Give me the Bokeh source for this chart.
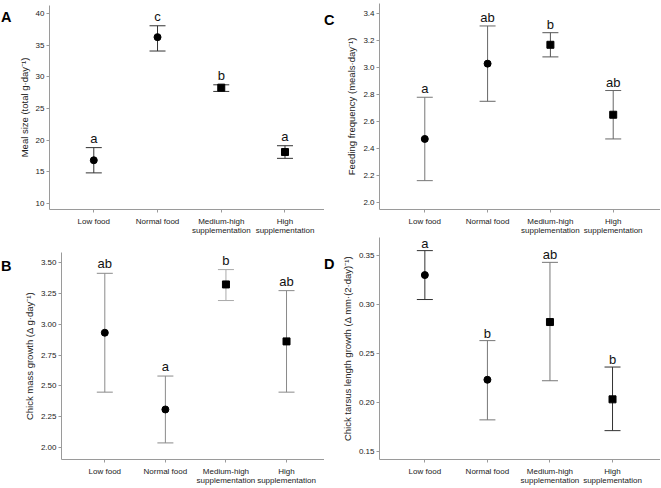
from bokeh.plotting import figure
from bokeh.layouts import row, column
from bokeh.models import (ColumnDataSource, FixedTicker, NumeralTickFormatter,
                          LabelSet, Range1d, Div)
from bokeh.core.properties import value
from bokeh.embed import file_html
from bokeh.resources import INLINE

# ---------------- data ----------------
groups = ["Low food", "Normal food", "Medium-high\nsupplementation", "High\nsupplementation"]
group_pos = [0, 1, 2, 3]
markers = ["circle", "circle", "square", "square"]

A_mean = [16.8, 36.3, 28.3, 18.1]
A_lo = [14.8, 34.1, 27.7, 17.1]
A_hi = [18.8, 38.1, 28.75, 19.1]
A_letters = ["a", "c", "b", "a"]
A_ticks = [10, 15, 20, 25, 30, 35, 40]

B_mean = [2.93, 2.31, 3.32, 2.86]
B_lo = [2.45, 2.04, 3.19, 2.45]
B_hi = [3.41, 2.58, 3.44, 3.27]
B_letters = ["ab", "a", "b", "ab"]
B_ticks = [2.00, 2.25, 2.50, 2.75, 3.00, 3.25, 3.50]

C_mean = [2.47, 3.03, 3.17, 2.65]
C_lo = [2.16, 2.75, 3.08, 2.47]
C_hi = [2.78, 3.31, 3.26, 2.83]
C_letters = ["a", "ab", "b", "ab"]
C_ticks = [2.0, 2.2, 2.4, 2.6, 2.8, 3.0, 3.2, 3.4]

D_mean = [0.330, 0.223, 0.282, 0.203]
D_lo = [0.305, 0.182, 0.222, 0.171]
D_hi = [0.355, 0.263, 0.343, 0.236]
D_letters = ["a", "b", "ab", "b"]
D_ticks = [0.15, 0.20, 0.25, 0.30, 0.35]

FONT = "Liberation Sans"


def make_panel(mean, lo, hi, letters, ticks, fmt, ylabel, yr, xr,
               bar_colors, borders, size, lab_off):
    w, h = size
    bl, bt = borders
    p = figure(width=w, height=h, output_backend="svg", toolbar_location=None,
               x_range=Range1d(*xr), y_range=Range1d(*yr),
               min_border_left=bl, min_border_right=0,
               min_border_top=bt, min_border_bottom=0, margin=0)
    p.outline_line_color = None
    p.xgrid.visible = False
    p.ygrid.visible = False
    p.background_fill_color = "white"
    p.border_fill_color = "white"

    src = ColumnDataSource(dict(x=group_pos, m=mean, lo=lo, hi=hi,
                                lab=letters, c=bar_colors, mk=markers))
    p.segment(x0="x", y0="lo", x1="x", y1="hi", line_color="c",
              line_width=1, source=src)
    p.scatter(x="x", y="lo", marker="dash", size=16, line_color="c",
              line_width=1, source=src)
    p.scatter(x="x", y="hi", marker="dash", size=16, line_color="c",
              line_width=1, source=src)
    p.scatter(x="x", y="m", marker="mk", size=7, fill_color="black",
              line_color="black", source=src)

    ls = LabelSet(x="x", y="hi", text="lab", source=src, y_offset=lab_off,
                  text_align="center", text_baseline="bottom",
                  text_font=value(FONT), text_font_size=value("13px"),
                  text_color=value("#111111"))
    p.add_layout(ls)

    for ax in (p.xaxis[0], p.yaxis[0]):
        ax.axis_line_color = "#9a9a9a"
        ax.major_tick_line_color = "#9a9a9a"
        ax.minor_tick_line_color = None
        ax.major_tick_in = 0
        ax.major_tick_out = 3
        ax.major_label_text_font = FONT
        ax.major_label_text_font_size = "8px"
        ax.major_label_text_color = "#222222"

    p.xaxis.ticker = FixedTicker(ticks=group_pos)
    p.xaxis.major_label_overrides = {k: v for k, v in zip(group_pos, groups)}
    p.xaxis.major_label_standoff = 4
    p.xaxis.major_label_text_line_height = 1.0

    p.yaxis.ticker = FixedTicker(ticks=ticks)
    p.yaxis.formatter = NumeralTickFormatter(format=fmt)
    p.yaxis.major_label_standoff = 2
    p.yaxis.axis_label = ylabel
    p.yaxis.axis_label_text_font = FONT
    p.yaxis.axis_label_text_font_size = "9.5px"
    p.yaxis.axis_label_text_font_style = "normal"
    p.yaxis.axis_label_text_color = "#222222"
    p.yaxis.axis_label_standoff = 3
    return p


def letter_div(letter, w, h, top, left):
    html = ('<div style="font-family: \'Liberation Sans\', Arial, sans-serif; '
            'font-weight: bold; font-size: 14.5px; line-height: 14.5px; '
            f'padding-top: {top}px; padding-left: {left}px; color: black;">{letter}</div>')
    return Div(text=html, width=w, height=h, margin=0)


H1, H2 = 237, 250

pA = make_panel(A_mean, A_lo, A_hi, A_letters, A_ticks, "0",
                "Meal size (total g·day⁻¹)", (9.0, 41.31), (-0.695, 3.62),
                ["#333333"] * 4, (37, 5), (312, H1), 2)
pC = make_panel(C_mean, C_lo, C_hi, C_letters, C_ticks, "0.0",
                "Feeding frequency (meals·day⁻¹)", (1.9455, 3.477), (-0.721, 3.753),
                ["#777777", "#666666", "#555555", "#666666"], (41, 3), (322, H1), 1)
pB = make_panel(B_mean, B_lo, B_hi, B_letters, B_ticks, "0.00",
                "Chick mass growth (Δ g·day⁻¹)", (1.906, 3.578), (-0.715, 3.627),
                ["#8a8a8a", "#8a8a8a", "#aaaaaa", "#8a8a8a"], (49, 15), (312, H2), 2)
pD = make_panel(D_mean, D_lo, D_hi, D_letters, D_ticks, "0.00",
                "Chick tarsus length growth (Δ mm·(2·day)⁻¹)", (0.1415, 0.3684), (-0.725, 3.767),
                ["#333333", "#777777", "#777777", "#333333"], (39, 0), (322, H2), 0)

dA = letter_div("A", 12, H1, 10, 1)
dC = letter_div("C", 14, H1, 13, 0)
dB = letter_div("B", 12, H2, 22, 1)
dD = letter_div("D", 14, H2, 20, 0)

left_col = column(row(dA, pA, margin=0, spacing=0),
                  row(dB, pB, margin=0, spacing=0), margin=0, spacing=0)
right_col = column(row(dC, pC, margin=0, spacing=0),
                   row(dD, pD, margin=0, spacing=0), margin=0, spacing=0)
layout = row(left_col, right_col, margin=0, spacing=0)

open("out.html", "w").write(file_html(layout, INLINE))
